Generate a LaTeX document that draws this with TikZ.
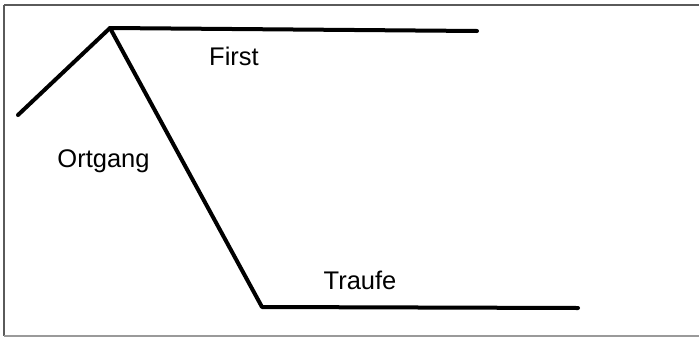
\documentclass[tikz,border=0pt]{standalone}
\usepackage{fontspec}
\setmainfont{Liberation Sans}
\usepackage{xcolor}
\definecolor{framegrey}{HTML}{5A5A5A}
\definecolor{framelight}{HTML}{9A9A9A}
\usetikzlibrary{calc}

\begin{document}
\begin{tikzpicture}[x=1pt, y=-1pt,
    roofline/.style={line width=4pt, line join=round, line cap=round},
    rooflabel/.style={anchor=base, inner sep=0pt, font=\fontsize{25.5}{30}\selectfont}]
        \useasboundingbox (0,0) rectangle (699,338);
        \fill[white] (0,0) rectangle (699,338);
        % frame
        \draw[framegrey, line width=2pt] (4,5) -- (699,5);
        \draw[framegrey, line width=1.5pt] (4,5) -- (4,336);
        \draw[framelight, line width=1.5pt] (4,336) -- (699,336);
        % roof edges
        \coordinate (eaveL) at (18,115);
        \coordinate (apex) at (110,28);
        \coordinate (ridgeR) at (477,31);
        \coordinate (corner) at (262,307);
        \coordinate (eaveR) at (578,308);
        \draw[roofline] (eaveL) -- (apex) -- (ridgeR);
        \draw[roofline] (apex) -- (corner) -- (eaveR);
        \node[rooflabel] (first) at (234,65) {First};
        \node[rooflabel] (ortgang) at (103.5,167) {Ortgang};
        \node[rooflabel] (traufe) at (360,289) {Traufe};
      \end{tikzpicture}
\end{document}
